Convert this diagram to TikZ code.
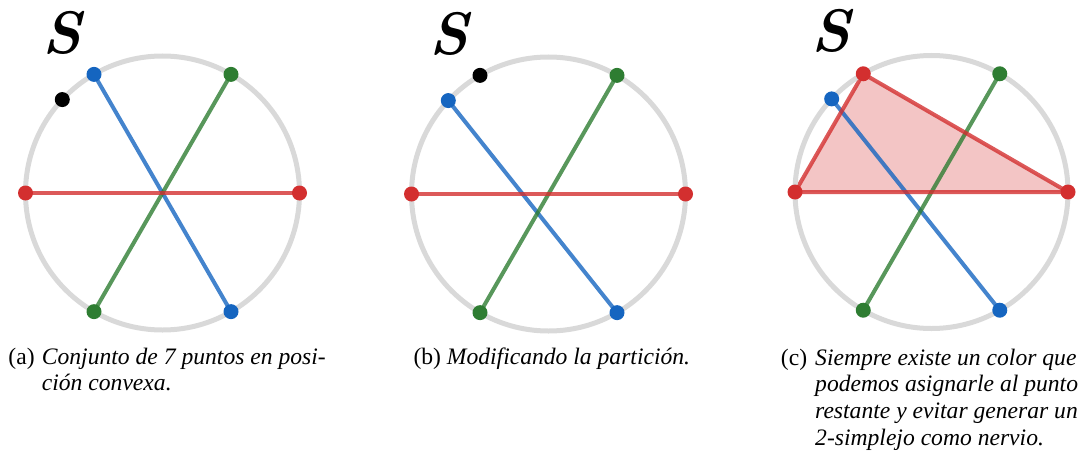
\documentclass[tikz,border=0pt]{standalone}
\usepackage{fontspec}
\newfontfamily\capfont{Liberation Serif}
\usetikzlibrary{backgrounds}
\definecolor{cred}{HTML}{D32F2F}
\definecolor{cblue}{HTML}{1565C0}
\definecolor{cgreen}{HTML}{2E7D32}
\definecolor{ringgray}{HTML}{D9D9D9}
\tikzset{
  ring/.style={draw=ringgray, line width=5pt},
  dotnode/.style={circle, fill=#1, inner sep=0pt, minimum size=15pt},
  chord/.style={draw=#1, line width=4pt, draw opacity=0.8},
  simplexfill/.style={fill=cred, fill opacity=0.28},
  simplexedge/.style={draw=cred, draw opacity=0.8, line width=4pt, line join=round},
  slabel/.style={anchor=base, inner sep=0pt, font={\bfseries\itshape\fontsize{60}{60}\selectfont}},
  captag/.style={anchor=base west, inner sep=0pt, font={\capfont\fontsize{23.6}{26.7}\selectfont}},
  captext/.style={anchor=base west, inner sep=0pt, font={\capfont\itshape\fontsize{23.6}{26.7}\selectfont}}
}
\begin{document}
\begin{tikzpicture}[x=1pt,y=1pt]
\useasboundingbox (0,0) rectangle (1083,459);
% ---------- panel (a)
\begin{scope}[shift={(162.5,266)}]
  \draw[ring] (0,0) circle[radius=137];
  \node[slabel] (a-s) at (-101,139) {S};
  \node[dotnode=cred] (a-r1) at (180:137) {};
  \node[dotnode=cred] (a-r2) at (0:137) {};
  \node[dotnode=cblue] (a-b1) at (120:137) {};
  \node[dotnode=cblue] (a-b2) at (300:137) {};
  \node[dotnode=cgreen] (a-g1) at (60:137) {};
  \node[dotnode=cgreen] (a-g2) at (240:137) {};
  \node[dotnode=black] (a-k) at (137:137) {};
  \begin{scope}[on background layer]
    \draw[chord=cblue] (a-b1.center) -- (a-b2.center);
    \draw[chord=cgreen] (a-g1.center) -- (a-g2.center);
    \draw[chord=cred] (a-r1.center) -- (a-r2.center);
  \end{scope}
\end{scope}
% ---------- panel (b)
\begin{scope}[shift={(548.5,265)}]
  \draw[ring] (0,0) circle[radius=137];
  \node[slabel] (b-s) at (-100,139) {S};
  \node[dotnode=cred] (b-r1) at (180:137) {};
  \node[dotnode=cred] (b-r2) at (0:137) {};
  \node[dotnode=cblue] (b-b1) at (137:137) {};
  \node[dotnode=cblue] (b-b2) at (300:137) {};
  \node[dotnode=cgreen] (b-g1) at (60:137) {};
  \node[dotnode=cgreen] (b-g2) at (240:137) {};
  \node[dotnode=black] (b-k) at (120:137) {};
  \begin{scope}[on background layer]
    \draw[chord=cblue] (b-b1.center) -- (b-b2.center);
    \draw[chord=cgreen] (b-g1.center) -- (b-g2.center);
    \draw[chord=cred] (b-r1.center) -- (b-r2.center);
  \end{scope}
\end{scope}
% ---------- panel (c)
\begin{scope}[shift={(931.5,267)}]
  \draw[ring] (0,0) circle[radius=136.5];
  \node[slabel] (c-s) at (-101,140) {S};
  \node[dotnode=cred] (c-r1) at (180:136.5) {};
  \node[dotnode=cred] (c-r2) at (0:136.5) {};
  \node[dotnode=cred] (c-r3) at (120:136.5) {};
  \node[dotnode=cblue] (c-b1) at (137:136.5) {};
  \node[dotnode=cblue] (c-b2) at (300:136.5) {};
  \node[dotnode=cgreen] (c-g1) at (60:136.5) {};
  \node[dotnode=cgreen] (c-g2) at (240:136.5) {};
  \begin{scope}[on background layer]
    \fill[simplexfill] (c-r1.center) -- (c-r3.center) -- (c-r2.center) -- cycle;
    \draw[chord=cblue] (c-b1.center) -- (c-b2.center);
    \draw[chord=cgreen] (c-g1.center) -- (c-g2.center);
    \draw[simplexedge] (c-r1.center) -- (c-r3.center) -- (c-r2.center) -- cycle;
  \end{scope}
\end{scope}
% ---------- captions
\node[captag] (capa) at (8.3,95) {(a)};
\node[captext] (capa1) at (41.7,95) {Conjunto de 7 puntos en posi-};
\node[captext] (capa2) at (41.7,68.3) {ción convexa.};
\node[captag] (capb) at (413.3,95) {(b)};
\node[captext] (capb1) at (446.7,95) {Modificando la partición.};
\node[captag] (capc) at (780.7,94) {(c)};
\node[captext] (capc1) at (815,94) {Siempre existe un color que};
\node[captext] (capc2) at (815,67.3) {podemos asignarle al punto};
\node[captext] (capc3) at (815,40.7) {restante y evitar generar un};
\node[captext] (capc4) at (815,14) {2-simplejo como nervio.};
\end{tikzpicture}
\end{document}
